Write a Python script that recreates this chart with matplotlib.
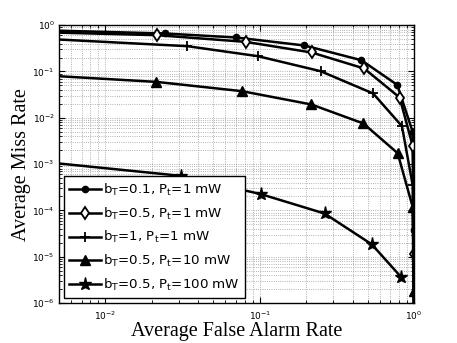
import numpy as np
import matplotlib
matplotlib.use('Agg')
import matplotlib.pyplot as plt
from matplotlib.ticker import LogLocator, NullFormatter, FixedLocator

# false alarm rate / miss rate (first point is where the line enters the axes)
pfa_c = [0.005, 0.0242, 0.0703, 0.195, 0.456, 0.778, 0.98, 1.0, 1.0]
pm_c = [0.76, 0.662, 0.542, 0.364, 0.175, 0.0514, 0.00496, 3.7e-5, 1e-8]

pfa_d = [0.005, 0.0216, 0.0813, 0.217, 0.475, 0.807, 0.98, 1.0, 1.0]
pm_d = [0.69, 0.608, 0.436, 0.257, 0.116, 0.0274, 0.00247, 1.17e-5, 1e-8]

pfa_p = [0.005, 0.034, 0.0973, 0.248, 0.543, 0.835, 0.98, 1.0]
pm_p = [0.49, 0.352, 0.214, 0.1015, 0.0335, 0.00659, 3.5e-4, 1e-8]

pfa_t = [0.005, 0.0214, 0.0766, 0.216, 0.470, 0.783, 0.98, 1.0]
pm_t = [0.079, 0.0596, 0.0376, 0.0194, 0.00753, 0.00172, 1.19e-4, 1.8e-6]

pfa_s = [0.005, 0.0311, 0.102, 0.263, 0.532, 0.823]
pm_s = [1.03e-3, 5.56e-4, 2.24e-4, 8.57e-5, 1.85e-5, 3.66e-6]

xticks = [1e-2, 1e-1, 1e0]
yticks = [1e-6, 1e-5, 1e-4, 1e-3, 1e-2, 1e-1, 1e0]

labels = ['b$_\\mathregular{T}$=0.1, P$_\\mathregular{t}$=1 mW',
          'b$_\\mathregular{T}$=0.5, P$_\\mathregular{t}$=1 mW',
          'b$_\\mathregular{T}$=1, P$_\\mathregular{t}$=1 mW',
          'b$_\\mathregular{T}$=0.5, P$_\\mathregular{t}$=10 mW',
          'b$_\\mathregular{T}$=0.5, P$_\\mathregular{t}$=100 mW']

plt.rcParams['font.family'] = 'DejaVu Sans'
plt.rcParams['mathtext.fontset'] = 'dejavusans'

fig = plt.figure(figsize=(4.57, 3.43), dpi=100)
ax = fig.add_axes([0.129, 0.1166, 0.777, 0.810])

me = slice(1, None)
lw = 1.8
ax.plot(pfa_c, pm_c, 'k-', lw=lw, marker='o', ms=4.5, markevery=me, label=labels[0])
ax.plot(pfa_d, pm_d, 'k-', lw=lw, marker='d', ms=6, mfc='white', mew=1.3, markevery=me, label=labels[1])
ax.plot(pfa_p, pm_p, 'k-', lw=lw, marker='+', ms=6.5, mew=1.3, markevery=me, label=labels[2])
ax.plot(pfa_t, pm_t, 'k-', lw=lw, marker='^', ms=6.5, markevery=me, label=labels[3])
ax.plot(pfa_s, pm_s, 'k-', lw=lw, marker='*', ms=9.5, markevery=me, label=labels[4])

ax.set_xscale('log')
ax.set_yscale('log')
ax.set_xlim(0.005, 1)
ax.set_ylim(1e-6, 1)

ax.xaxis.set_major_locator(FixedLocator(xticks))
ax.xaxis.set_minor_locator(LogLocator(base=10, subs=np.arange(2, 10), numticks=10))
ax.yaxis.set_major_locator(FixedLocator(yticks))
ax.yaxis.set_minor_locator(LogLocator(base=10, subs=np.arange(2, 10), numticks=10))
ax.xaxis.set_minor_formatter(NullFormatter())
ax.yaxis.set_minor_formatter(NullFormatter())

ax.grid(True, which='both', linestyle=':', color='#999999', lw=0.6)
ax.tick_params(which='both', direction='in', top=True, right=True, labelsize=6.5)
ax.tick_params(which='major', length=4)
ax.tick_params(axis='x', which='major', pad=5)
ax.tick_params(axis='y', which='major', pad=3)
ax.tick_params(which='minor', length=2)
for s in ax.spines.values():
    s.set_linewidth(1.0)

ax.set_xlabel('Average False Alarm Rate', family='Liberation Serif', fontsize=14.5, labelpad=0)
ax.set_ylabel('Average Miss Rate', family='Liberation Serif', fontsize=14.5, labelpad=1)

leg = ax.legend(loc='lower left', fontsize=9.6, handlelength=2.4, handletextpad=0.15,
                labelspacing=0.58, borderaxespad=0.35, fancybox=False, framealpha=1,
                edgecolor='black', borderpad=0.4)
leg.get_frame().set_linewidth(1.0)

fig.savefig('out.png', dpi=100)
